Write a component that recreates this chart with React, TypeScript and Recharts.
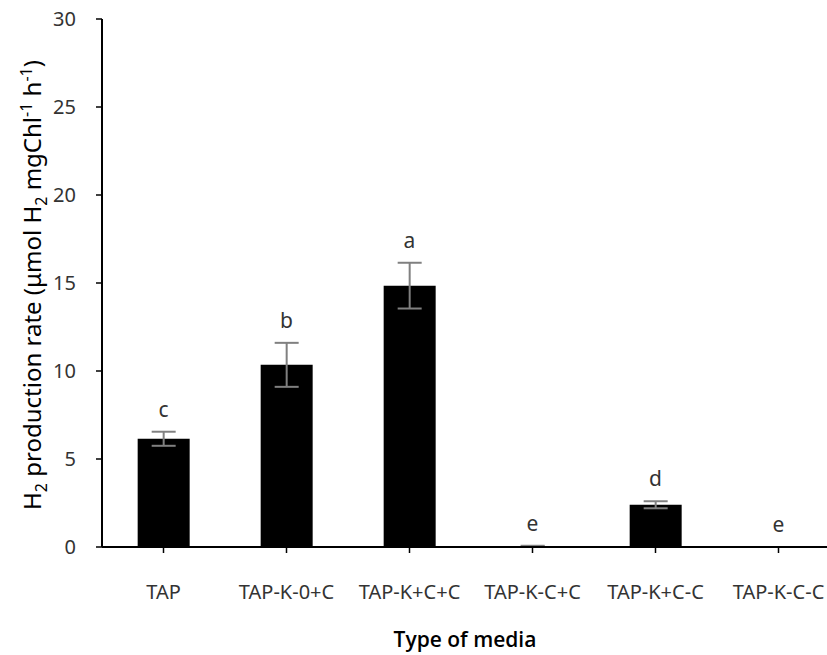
import { ComposedChart, Bar, Line, XAxis, YAxis, ErrorBar, LabelList } from 'recharts';

const media = ['TAP', 'TAP-K-0+C', 'TAP-K+C+C', 'TAP-K-C+C', 'TAP-K+C-C', 'TAP-K-C-C'];
const rate = [6.15, 10.35, 14.85, 0.05, 2.4, 0];
const sd = [0.4, 1.25, 1.3, 0.02, 0.2, 0];
const letters = ['c', 'b', 'a', 'e', 'd', 'e'];
const yTicks = [0, 5, 10, 15, 20, 25, 30];

const data = media.map((m, i) => ({
  media: m,
  rate: rate[i],
  sd: sd[i],
  top: rate[i] + sd[i],
  letter: letters[i],
}));

const FONT = '"Noto Sans", sans-serif';

const YTitle = () => (
  <text
    x={0}
    y={0}
    transform="translate(41, 285) rotate(-90)"
    textAnchor="middle"
    fontFamily={FONT}
    fontSize={24}
    fill="#000"
  >
    H<tspan fontSize={16} dy={6}>2</tspan>
    <tspan dy={-6}> production rate (μmol H</tspan>
    <tspan fontSize={16} dy={6}>2</tspan>
    <tspan dy={-6}> mgChl</tspan>
    <tspan fontSize={16} dy={-9}>-1</tspan>
    <tspan dy={9}> h</tspan>
    <tspan fontSize={16} dy={-9}>-1</tspan>
    <tspan dy={9}>)</tspan>
  </text>
);

const XTitle = () => (
  <text x={465} y={647} textAnchor="middle" fontFamily='"Open Sans", sans-serif' fontSize={21} fontWeight={600} fill="#000">
    Type of media
  </text>
);

export default function App() {
  return (
    <div style={{ position: 'fixed', left: 0, top: 0, width: 827, height: 655, overflow: 'hidden', background: '#fff' }}>
      <ComposedChart
        width={850}
        height={655}
        data={data}
        margin={{ top: 19, right: 10, left: 0, bottom: 0 }}
        barCategoryGap="29%"
      >
        <XAxis
          dataKey="media"
          height={108}
          axisLine={{ stroke: '#000', strokeWidth: 2 }}
          tickLine={{ stroke: '#000', strokeWidth: 1.5 }}
          tickSize={6}
          tickMargin={32}
          tick={{ fontFamily: FONT, fontSize: 20, fill: '#333' }}
          interval={0}
          label={<XTitle />}
        />
        <YAxis
          width={102}
          domain={[0, 30]}
          ticks={yTicks}
          axisLine={{ stroke: '#000', strokeWidth: 2 }}
          tickLine={{ stroke: '#000', strokeWidth: 1.5 }}
          tickSize={6}
          tickMargin={20}
          tick={{ fontFamily: FONT, fontSize: 20, fill: '#333' }}
          label={<YTitle />}
        />
        <Bar dataKey="rate" fill="#000" isAnimationActive={false}>
          <ErrorBar dataKey="sd" width={12} stroke="#808080" strokeWidth={2} direction="y" />
        </Bar>
        <Line dataKey="top" stroke="none" dot={false} activeDot={false} isAnimationActive={false}>
          <LabelList
            dataKey="letter"
            position="top"
            offset={15}
            style={{ fontFamily: FONT, fontSize: 21, fill: '#333' }}
          />
        </Line>
      </ComposedChart>
    </div>
  );
}
